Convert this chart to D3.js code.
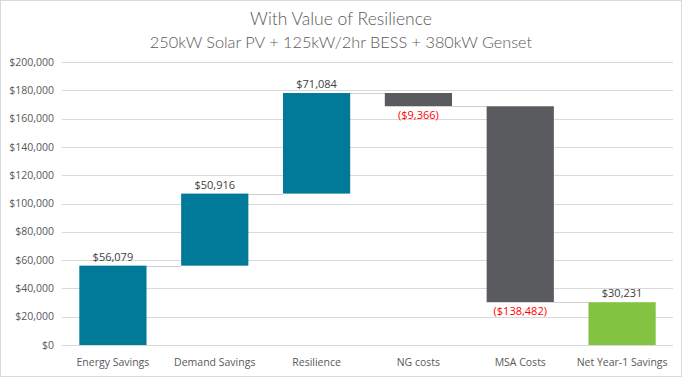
<!DOCTYPE html>
<html>
<head>
<meta charset="utf-8">
<script src="https://cdn.jsdelivr.net/npm/d3@7"></script>
<style>
  body { margin: 0; background: #fff; }
  svg { display: block; }
</style>
</head>
<body>
<svg id="chart"></svg>
<script>
const categories = ['Energy Savings', 'Demand Savings', 'Resilience', 'NG costs', 'MSA Costs', 'Net Year-1 Savings'];
const values = [56079, 50916, 71084, -9366, -138482, 30231];
const isTotal = [false, false, false, false, false, true];
const yTicks = [0, 20000, 40000, 60000, 80000, 100000, 120000, 140000, 160000, 180000, 200000];

const width = 682, height = 377;
const margin = { top: 62, right: 9, bottom: 32, left: 62 };

const svg = d3.select('#chart').attr('width', width).attr('height', height);

// chart border
svg.append('rect')
    .attr('x', 0.5).attr('y', 0.5)
    .attr('width', width - 1).attr('height', height - 1)
    .attr('fill', '#fff').attr('stroke', '#d9d9d9');

// build the waterfall steps
let running = 0;
const steps = categories.map((c, i) => {
    let start, end;
    if (isTotal[i]) { start = 0; end = values[i]; }
    else { start = running; end = running + values[i]; }
    running = end;
    return { cat: c, value: values[i], start, end, total: isTotal[i] };
});

const x = d3.scaleBand()
    .domain(categories)
    .range([margin.left, width - margin.right])
    .paddingInner(0.34)
    .paddingOuter(0.17);

const y = d3.scaleLinear()
    .domain([0, 200000])
    .range([height - margin.bottom, margin.top]);

const fmt = d3.format('$,.0f');

// gridlines
svg.append('g')
    .selectAll('line')
    .data(yTicks)
    .join('line')
    .attr('x1', margin.left).attr('x2', width - margin.right)
    .attr('y1', d => Math.round(y(d)) + 0.5).attr('y2', d => Math.round(y(d)) + 0.5)
    .attr('stroke', '#d9d9d9').attr('stroke-width', 1);

// y labels
svg.append('g')
    .selectAll('text')
    .data(yTicks)
    .join('text')
    .attr('x', margin.left - 8)
    .attr('y', d => y(d))
    .attr('dy', '0.35em')
    .attr('text-anchor', 'end')
    .attr('font-family', 'Open Sans, sans-serif')
    .attr('font-size', 10.5)
    .attr('fill', '#595959')
    .text(d => fmt(d));

// connectors between bars
svg.append('g')
    .selectAll('line')
    .data(steps.slice(0, -1))
    .join('line')
    .attr('x1', (d, i) => x(categories[i]) + x.bandwidth())
    .attr('x2', (d, i) => x(categories[i + 1]))
    .attr('y1', d => Math.round(y(d.end)) + 0.5)
    .attr('y2', d => Math.round(y(d.end)) + 0.5)
    .attr('stroke', '#d0d0d0').attr('stroke-width', 1);

const color = d => d.total ? '#82c341' : (d.value < 0 ? '#5a5b5f' : '#017a9a');

// bars
svg.append('g')
    .selectAll('rect')
    .data(steps)
    .join('rect')
    .attr('x', d => x(d.cat))
    .attr('width', x.bandwidth())
    .attr('y', d => y(Math.max(d.start, d.end)))
    .attr('height', d => Math.abs(y(d.start) - y(d.end)))
    .attr('fill', color);

// value labels
svg.append('g')
    .selectAll('text')
    .data(steps)
    .join('text')
    .attr('x', d => x(d.cat) + x.bandwidth() / 2)
    .attr('y', d => d.value < 0 ? y(Math.min(d.start, d.end)) + 13 : y(Math.max(d.start, d.end)) - 5)
    .attr('text-anchor', 'middle')
    .attr('font-family', 'Open Sans, sans-serif')
    .attr('font-size', 11)
    .attr('fill', d => d.value < 0 ? '#ff0000' : '#404040')
    .text(d => d.value < 0 ? '(' + fmt(-d.value) + ')' : fmt(d.value));

// category labels
svg.append('g')
    .selectAll('text')
    .data(categories)
    .join('text')
    .attr('x', d => x(d) + x.bandwidth() / 2)
    .attr('y', height - margin.bottom + 21)
    .attr('text-anchor', 'middle')
    .attr('font-family', 'Open Sans, sans-serif')
    .attr('font-size', 10.5)
    .attr('fill', '#595959')
    .text(d => d);

// titles
svg.append('text')
    .attr('x', width / 2).attr('y', 25)
    .attr('text-anchor', 'middle')
    .attr('font-family', 'Lato, sans-serif')
    .attr('font-weight', 300)
    .attr('font-size', 17.5)
    .attr('fill', '#595959')
    .text('With Value of Resilience');

svg.append('text')
    .attr('x', width / 2).attr('y', 48)
    .attr('text-anchor', 'middle')
    .attr('font-family', 'Lato, sans-serif')
    .attr('font-weight', 300)
    .attr('font-size', 16.3)
    .attr('fill', '#595959')
    .text('250kW Solar PV + 125kW/2hr BESS + 380kW Genset');
</script>
</body>
</html>
